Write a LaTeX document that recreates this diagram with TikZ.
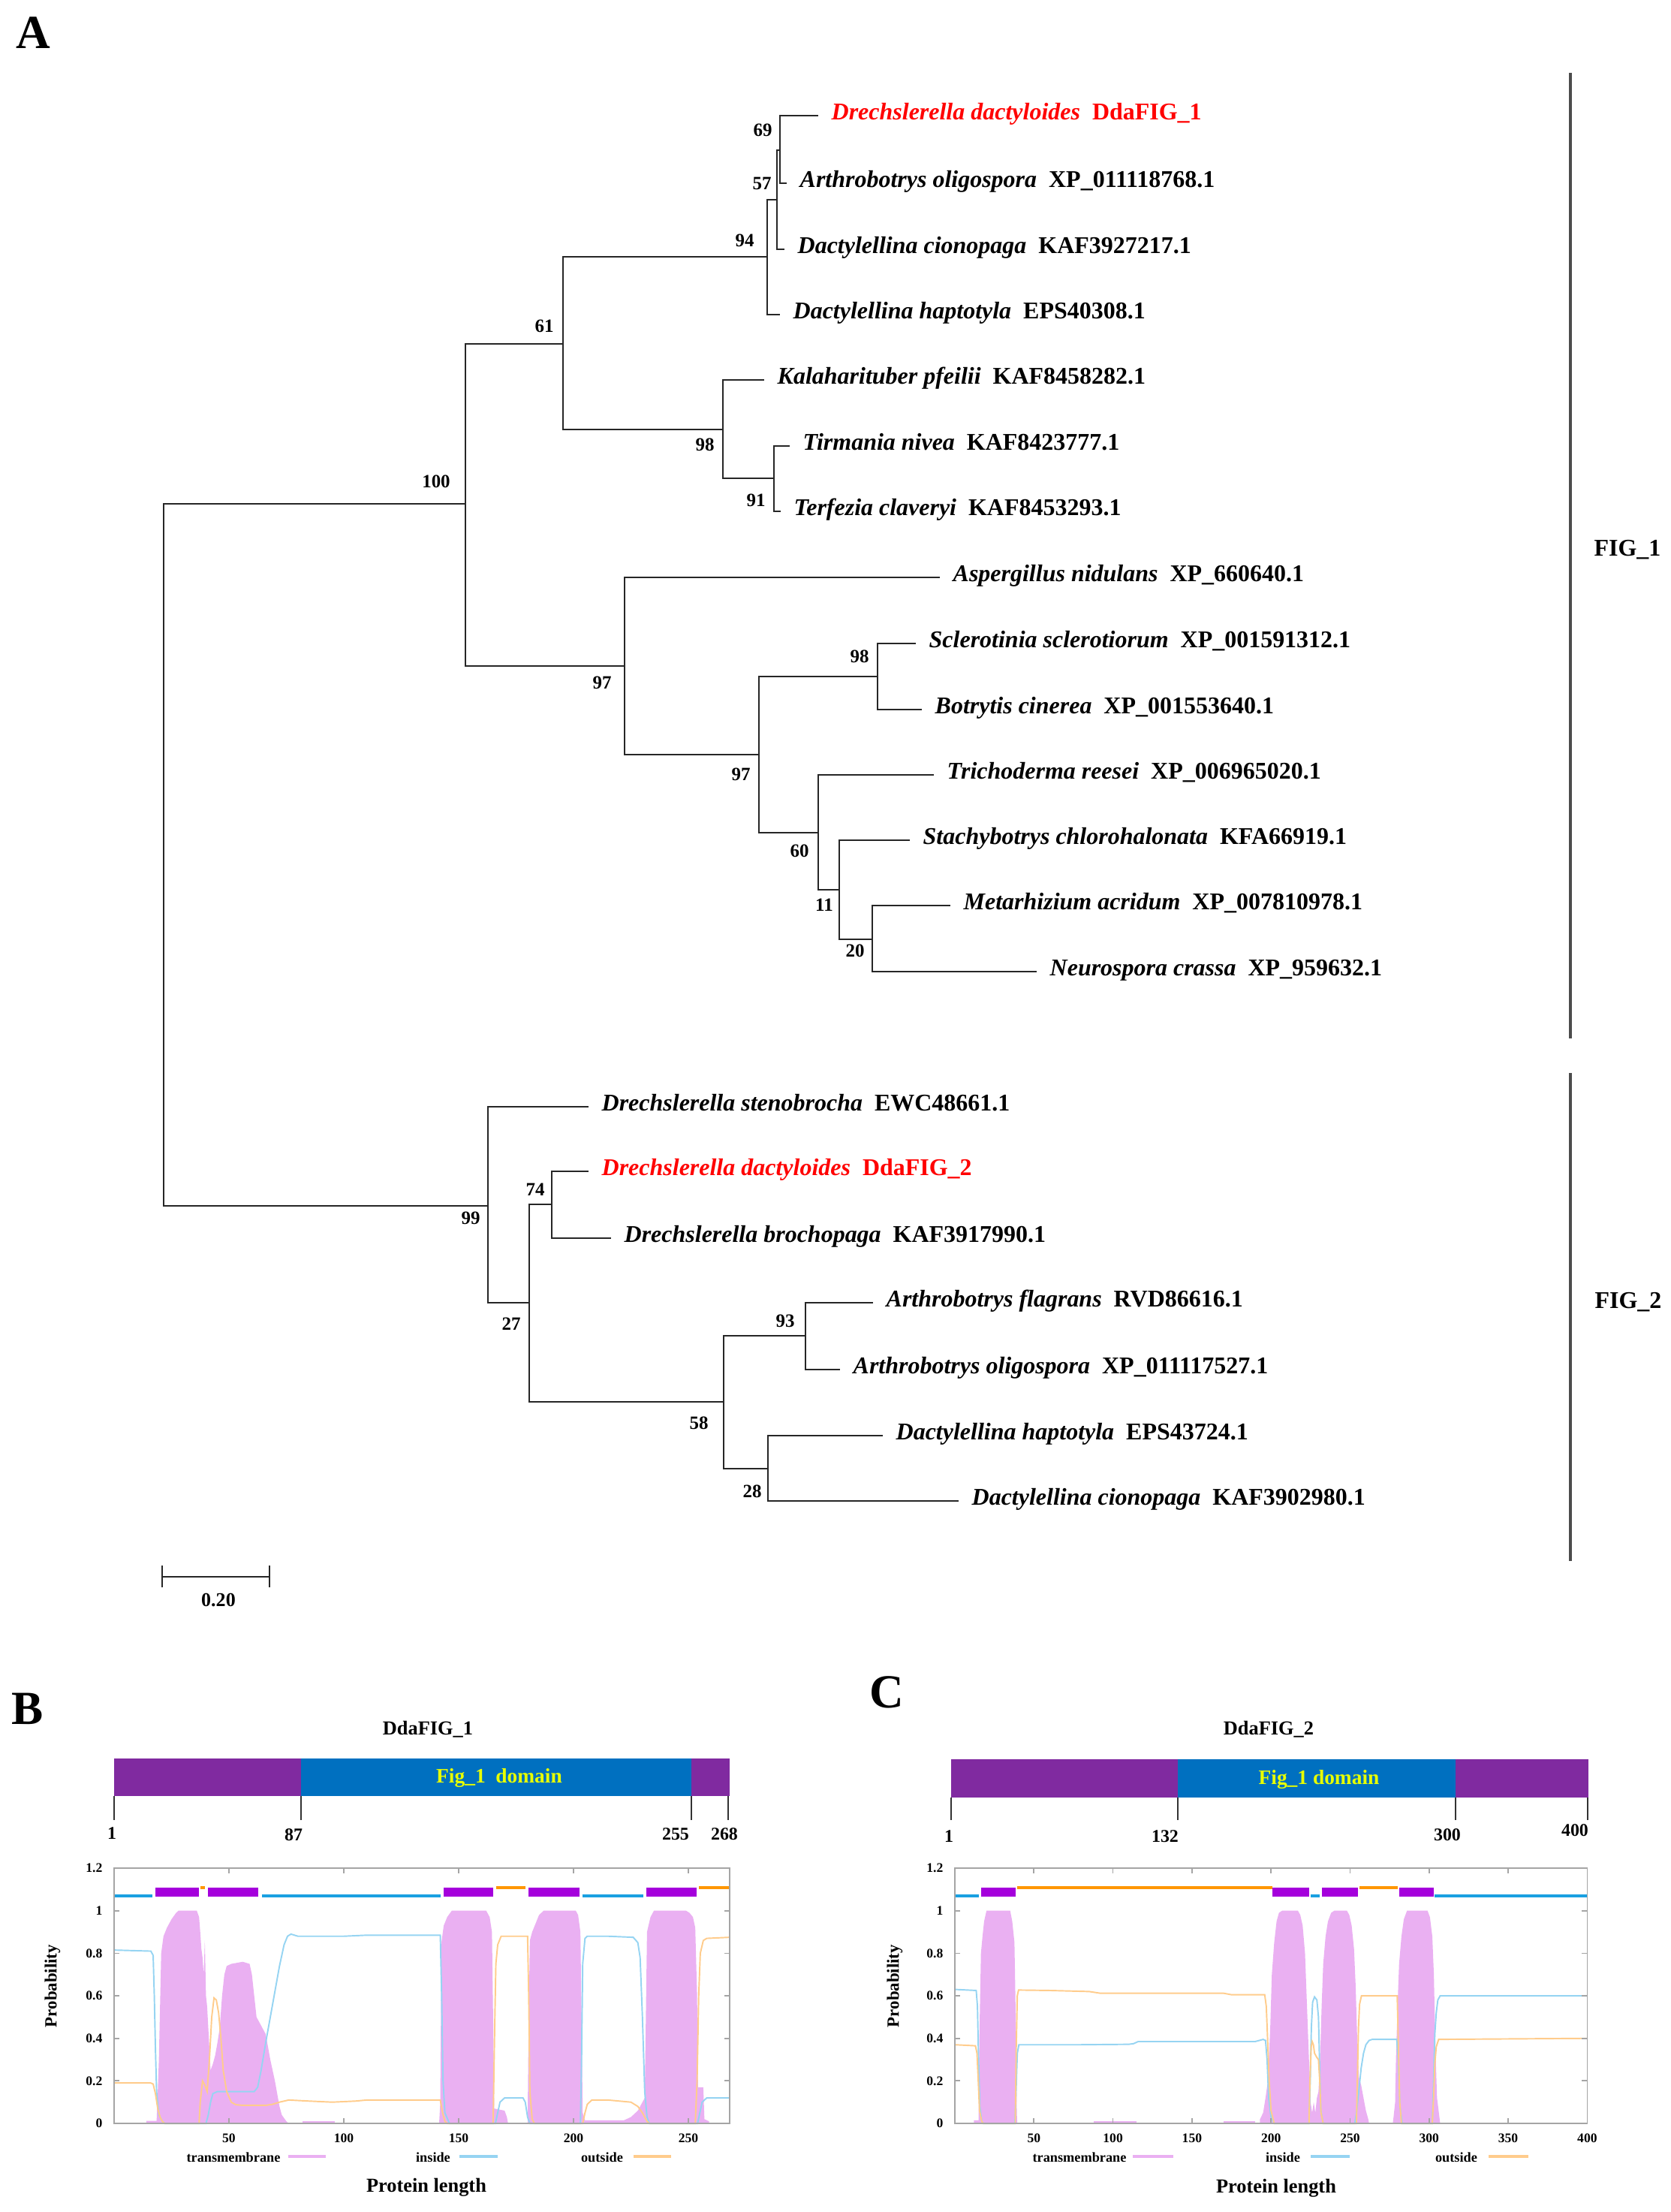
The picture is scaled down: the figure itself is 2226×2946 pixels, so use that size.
\documentclass[tikz,border=0pt]{standalone}
\usepackage{fontspec}
\setmainfont{Liberation Serif}
\usepackage{xcolor}
\usepackage{tikz}

\definecolor{dompurple}{RGB}{128,42,160}
\definecolor{domblue}{RGB}{0,112,192}
\definecolor{domtext}{RGB}{232,255,0}
\definecolor{tmbar}{RGB}{165,0,220}
\definecolor{inbar}{RGB}{25,160,225}
\definecolor{outbar}{RGB}{255,150,0}
\definecolor{tmfill}{RGB}{234,176,242}
\definecolor{incurve}{RGB}{150,212,242}
\definecolor{outcurve}{RGB}{255,204,140}
\definecolor{frgray}{RGB}{165,165,165}

\newcommand{\fsz}[1]{\fontsize{#1}{#1}\selectfont\bfseries}

\begin{document}
\begin{tikzpicture}[x=0.1mm,y=-0.1mm,
  branch/.style={line width=0.75pt,black!85},
  leaf/.style={anchor=west,inner xsep=1.7mm,inner ysep=0pt,text height=0.68em,text depth=0.36em,font=\fsz{9.1pt}},
  boot/.style={inner sep=0pt,font=\fsz{7.1pt}},
  panel/.style={inner sep=0pt,font=\fsz{18pt}},
  cladebar/.style={line width=0.9pt,black!70},
  title/.style={inner sep=0pt,font=\fsz{7.5pt}},
  domlabel/.style={inner sep=0pt,text=domtext,font=\fsz{7.8pt}},
  postick/.style={line width=0.4pt,black!80},
  posnum/.style={inner sep=0pt,font=\fsz{6.8pt}},
  plotframe/.style={line width=0.5pt,frgray},
  ticklab/.style={inner sep=0pt,font=\fsz{5pt}},
  axtitle/.style={inner sep=0pt,font=\fsz{6.5pt}},
  lentitle/.style={inner sep=0pt,font=\fsz{7.5pt}},
  legtext/.style={inner sep=0pt,font=\fsz{5.2pt}},
  incline/.style={line width=0.55pt,incurve},
  outcline/.style={line width=0.55pt,outcurve},
  topo/.style={line width=1pt}
]
\useasboundingbox (0,0) rectangle (2226,2946);

%%% A: tree
\node[panel] (labA) at (44,44) {A};

\coordinate (root) at (218,1138);
\coordinate (n100) at (620,671);
\coordinate (n99) at (650,1606);
\coordinate (n61) at (750,458);
\coordinate (n97a) at (832,887);
\coordinate (n94) at (1022,342);
\coordinate (n98a) at (963,572);
\coordinate (n57) at (1035,266);
\coordinate (n69) at (1039,200);
\coordinate (n91) at (1031,637);
\coordinate (n97b) at (1011,1005);
\coordinate (n98b) at (1169,901);
\coordinate (n60) at (1090,1109);
\coordinate (n11) at (1118,1185);
\coordinate (n20) at (1162,1251);
\coordinate (n27) at (705,1735);
\coordinate (n74) at (735,1604);
\coordinate (n58) at (964,1867);
\coordinate (n93) at (1073,1779);
\coordinate (n28) at (1023,1956);

\node[leaf,text=red] (dda1) at (1090,154) {\textit{Drechslerella dactyloides}\hspace{0.5em}DdaFIG\_1};
\node[leaf] (aol1) at (1048,244) {\textit{Arthrobotrys oligospora}\hspace{0.5em}XP\_011118768.1};
\node[leaf] (dci1) at (1045,332) {\textit{Dactylellina cionopaga}\hspace{0.5em}KAF3927217.1};
\node[leaf] (dha1) at (1039,419) {\textit{Dactylellina haptotyla}\hspace{0.5em}EPS40308.1};
\node[leaf] (kal) at (1018,506) {\textit{Kalaharituber pfeilii}\hspace{0.5em}KAF8458282.1};
\node[leaf] (tir) at (1052,594) {\textit{Tirmania nivea}\hspace{0.5em}KAF8423777.1};
\node[leaf] (ter) at (1040,681) {\textit{Terfezia claveryi}\hspace{0.5em}KAF8453293.1};
\node[leaf] (asp) at (1252,769) {\textit{Aspergillus nidulans}\hspace{0.5em}XP\_660640.1};
\node[leaf] (scl) at (1220,857) {\textit{Sclerotinia sclerotiorum}\hspace{0.5em}XP\_001591312.1};
\node[leaf] (bot) at (1228,945) {\textit{Botrytis cinerea}\hspace{0.5em}XP\_001553640.1};
\node[leaf] (tri) at (1244,1032) {\textit{Trichoderma reesei}\hspace{0.5em}XP\_006965020.1};
\node[leaf] (sta) at (1212,1119) {\textit{Stachybotrys chlorohalonata}\hspace{0.5em}KFA66919.1};
\node[leaf] (met) at (1266,1206) {\textit{Metarhizium acridum}\hspace{0.5em}XP\_007810978.1};
\node[leaf] (neu) at (1381,1294) {\textit{Neurospora crassa}\hspace{0.5em}XP\_959632.1};
\node[leaf] (ste) at (784,1474) {\textit{Drechslerella stenobrocha}\hspace{0.5em}EWC48661.1};
\node[leaf,text=red] (dda2) at (784,1560) {\textit{Drechslerella dactyloides}\hspace{0.5em}DdaFIG\_2};
\node[leaf] (bro) at (814,1649) {\textit{Drechslerella brochopaga}\hspace{0.5em}KAF3917990.1};
\node[leaf] (fla) at (1163,1735) {\textit{Arthrobotrys flagrans}\hspace{0.5em}RVD86616.1};
\node[leaf] (aol2) at (1119,1824) {\textit{Arthrobotrys oligospora}\hspace{0.5em}XP\_011117527.1};
\node[leaf] (dha2) at (1176,1912) {\textit{Dactylellina haptotyla}\hspace{0.5em}EPS43724.1};
\node[leaf] (dci2) at (1277,1999) {\textit{Dactylellina cionopaga}\hspace{0.5em}KAF3902980.1};

\draw[branch] (root) |- (n100);
\draw[branch] (root) |- (n99);
\draw[branch] (n100) |- (n61);
\draw[branch] (n100) |- (n97a);
\draw[branch] (n61) |- (n94);
\draw[branch] (n61) |- (n98a);
\draw[branch] (n94) |- (n57);
\draw[branch] (n94) |- (dha1.west);
\draw[branch] (n57) |- (n69);
\draw[branch] (n57) |- (dci1.west);
\draw[branch] (n69) |- (dda1.west);
\draw[branch] (n69) |- (aol1.west);
\draw[branch] (n98a) |- (kal.west);
\draw[branch] (n98a) |- (n91);
\draw[branch] (n91) |- (tir.west);
\draw[branch] (n91) |- (ter.west);
\draw[branch] (n97a) |- (asp.west);
\draw[branch] (n97a) |- (n97b);
\draw[branch] (n97b) |- (n98b);
\draw[branch] (n97b) |- (n60);
\draw[branch] (n98b) |- (scl.west);
\draw[branch] (n98b) |- (bot.west);
\draw[branch] (n60) |- (tri.west);
\draw[branch] (n60) |- (n11);
\draw[branch] (n11) |- (sta.west);
\draw[branch] (n11) |- (n20);
\draw[branch] (n20) |- (met.west);
\draw[branch] (n20) |- (neu.west);
\draw[branch] (n99) |- (ste.west);
\draw[branch] (n99) |- (n27);
\draw[branch] (n27) |- (n74);
\draw[branch] (n27) |- (n58);
\draw[branch] (n74) |- (dda2.west);
\draw[branch] (n74) |- (bro.west);
\draw[branch] (n58) |- (n93);
\draw[branch] (n58) |- (n28);
\draw[branch] (n93) |- (fla.west);
\draw[branch] (n93) |- (aol2.west);
\draw[branch] (n28) |- (dha2.west);
\draw[branch] (n28) |- (dci2.west);

% bootstrap values
\node[boot] (b100) at (581,641) {100};
\node[boot] (b61) at (725,434) {61};
\node[boot] (b94) at (992,320) {94};
\node[boot] (b69) at (1016,173) {69};
\node[boot] (b57) at (1015,244) {57};
\node[boot] (b98a) at (939,592) {98};
\node[boot] (b91) at (1007,666) {91};
\node[boot] (b97a) at (802,909) {97};
\node[boot] (b97b) at (987,1031) {97};
\node[boot] (b98b) at (1145,874) {98};
\node[boot] (b60) at (1065,1133) {60};
\node[boot] (b11) at (1098,1205) {11};
\node[boot] (b20) at (1139,1266) {20};
\node[boot] (b99) at (627,1622) {99};
\node[boot] (b74) at (713,1584) {74};
\node[boot] (b27) at (681,1763) {27};
\node[boot] (b93) at (1046,1759) {93};
\node[boot] (b58) at (931,1895) {58};
\node[boot] (b28) at (1002,1986) {28};

% clades
\draw[cladebar] (2092,97) -- (2092,1383);
\draw[cladebar] (2092,1429) -- (2092,2079);
\node[leaf,anchor=center,inner xsep=0pt,text depth=0.04em] (fig1) at (2168,729) {FIG\_1};
\node[leaf,anchor=center,inner xsep=0pt,text depth=0.04em] (fig2) at (2169,1731) {FIG\_2};

% scale bar
\draw[branch] (216,2100) -- (359,2100);
\draw[branch] (216,2085) -- (216,2114);
\draw[branch] (359,2085) -- (359,2114);
\node[boot,font=\fsz{7.4pt}] (sbar) at (291,2131) {0.20};

%%% B: DdaFIG_1
\node[panel] (labB) at (37,2276) {B};
\node[title] (titB) at (570,2303) {DdaFIG\_1};
\fill[dompurple] (152,2342) rectangle (401,2392);
\fill[domblue] (401,2342) rectangle (921,2392);
\fill[dompurple] (921,2342) rectangle (972,2392);
\node[domlabel] (domB) at (665,2368) {Fig\_1\ \ domain};
\draw[postick] (152,2392) -- (152,2424);
\draw[postick] (401,2392) -- (401,2424);
\draw[postick] (921,2392) -- (921,2424);
\draw[postick] (970,2392) -- (970,2424);
\node[posnum] (pB1) at (149,2442) {1};
\node[posnum] (pB87) at (391,2444) {87};
\node[posnum] (pB255) at (900,2443) {255};
\node[posnum] (pB268) at (965,2443) {268};

\begin{scope}[shift={(152,2828)},x=0.306mm,y=28.33mm]
\fill[tmfill] (14,0) -- (14,0.012) -- (18.5,0.012) -- (19,0.15) -- (19.5,0.3) -- (20,0.55) -- (20.5,0.8) -- (21.5,0.88) -- (23,0.92) -- (25,0.96) -- (27,0.99) -- (28,1) -- (36,1) -- (37,0.97) -- (37.5,0.9) -- (38,0.82) -- (38.5,0.78) -- (39,0.7) -- (39.5,0.86) -- (40,0.6) -- (40.5,0.55) -- (41,0.45) -- (42,0.25) -- (43,0.28) -- (44,0.32) -- (45,0.38) -- (46,0.45) -- (47,0.6) -- (48,0.7) -- (49,0.74) -- (51,0.75) -- (56,0.76) -- (59,0.75) -- (60,0.7) -- (61,0.6) -- (62,0.5) -- (64,0.46) -- (66,0.42) -- (67,0.36) -- (68,0.3) -- (69,0.25) -- (70,0.2) -- (71,0.14) -- (72,0.08) -- (73,0.04) -- (75,0.01) -- (76,0) -- cycle;
\fill[tmfill] (82,0) rectangle (96,0.012);
\fill[tmfill] (141.5,0) -- (142,0.1) -- (142.5,0.85) -- (143.5,0.93) -- (145,0.97) -- (147,1) -- (162,1) -- (163.5,0.97) -- (164.5,0.9) -- (165,0.5) -- (165.5,0.07) -- (170,0.06) -- (171,0.03) -- (171.5,0) -- cycle;
\fill[tmfill] (180,0) -- (180.5,0.5) -- (181,0.86) -- (182,0.9) -- (183.5,0.94) -- (185,0.98) -- (187,1) -- (201,1) -- (202,0.98) -- (203,0.9) -- (203.5,0.5) -- (204,0.05) -- (205,0.015) -- (222,0.015) -- (225,0.03) -- (228,0.06) -- (230,0.1) -- (231,0.12) -- (231.5,0.5) -- (232,0.9) -- (233.5,0.97) -- (235,1) -- (249,1) -- (250.5,0.99) -- (252,0.97) -- (253,0.92) -- (253.8,0.6) -- (254.2,0.17) -- (256.5,0.17) -- (257,0.02) -- (259,0.01) -- (259,0) -- cycle;
\draw[incline] plot coordinates {(0,0.815) (16,0.81) (17,0.79) (17.5,0.6) (18,0.35) (18.5,0.15) (19.5,0.04) (21,0.01) (22,0) (40,0) (41,0.04) (42,0.1) (43,0.14) (45,0.15) (61,0.15) (62.5,0.17) (64,0.25) (66,0.38) (68,0.5) (70,0.62) (72,0.74) (74,0.84) (75.5,0.88) (77,0.89) (80,0.88) (100,0.88) (110,0.885) (142,0.885) (142.6,0.6) (143.2,0.2) (144,0.05) (146,0) (166,0) (167,0.05) (168,0.1) (170,0.12) (178,0.12) (179,0.1) (180,0.03) (181,0) (203,0) (203.5,0.3) (204,0.75) (205,0.87) (206,0.88) (215,0.88) (226,0.875) (228,0.85) (229,0.78) (230,0.5) (231,0.15) (232,0.03) (233,0) (254,0) (255,0.05) (256,0.1) (258,0.12) (268,0.12)};
\draw[outcline] plot coordinates {(0,0.19) (16,0.19) (17,0.185) (18,0.14) (19,0.07) (20,0.03) (21,0.01) (22,0) (37,0) (37.5,0.1) (38.5,0.2) (39.5,0.18) (40.5,0.15) (41.5,0.3) (42.5,0.5) (43.5,0.59) (44.5,0.58) (45.5,0.52) (46.5,0.4) (47.5,0.25) (49,0.15) (51,0.1) (53,0.088) (56,0.085) (66,0.085) (69,0.09) (72,0.1) (76,0.11) (85,0.105) (95,0.1) (105,0.105) (110,0.11) (142,0.11) (143,0.05) (144,0.01) (145,0) (165,0) (165.6,0.4) (166.2,0.75) (167,0.84) (168.5,0.88) (180,0.88) (180.5,0.6) (181,0.15) (182,0.02) (183,0) (204,0) (205,0.05) (206,0.09) (208,0.11) (215,0.11) (225,0.1) (228,0.08) (230,0.05) (232,0.01) (233,0) (253,0) (253.8,0.2) (254.5,0.6) (255.2,0.8) (256.5,0.86) (258,0.87) (268,0.875)};
% predicted topology
\draw[topo,inbar] (0,1.069) -- (16.8,1.069) (64.3,1.069) -- (142.2,1.069) (203.8,1.069) -- (230.5,1.069);
\draw[topo,outbar] (37.6,1.108) -- (39.7,1.108) (166.3,1.108) -- (179.1,1.108) (254.5,1.108) -- (268,1.108);
\fill[tmbar] (18,1.065) rectangle (36.8,1.11);
\fill[tmbar] (40.9,1.065) rectangle (62.7,1.11);
\fill[tmbar] (143.4,1.065) rectangle (165.1,1.11);
\fill[tmbar] (180.3,1.065) rectangle (202.5,1.11);
\fill[tmbar] (231.6,1.065) rectangle (253.6,1.11);
\draw[plotframe] (0,0) rectangle (268,1.2);
\foreach \t in {50,100,150,200,250} {
  \draw[plotframe] (\t,0) -- ++(0,0.7mm) (\t,1.2) -- ++(0,-0.7mm);
  \node[ticklab,anchor=north,yshift=-1.3mm] (xB\t) at (\t,0) {\t};
}
\foreach \v/\l [count=\i] in {0/0,0.2/0.2,0.4/0.4,0.6/0.6,0.8/0.8,1/1,1.2/1.2} {
  \draw[plotframe] (0,\v) -- ++(0.7mm,0) (268,\v) -- ++(-0.7mm,0);
  \node[ticklab,anchor=east,xshift=-1.5mm] (yB\i) at (0,\v) {\l};
}
\end{scope}
\node[axtitle,rotate=90] (probB) at (70,2645) {Probability};
\node[legtext] (lgB1) at (311,2873) {transmembrane};
\draw[tmfill,line width=1pt] (384,2872) -- (434,2872);
\node[legtext] (lgB2) at (577,2873) {inside};
\draw[incurve,line width=1pt] (612,2872) -- (663,2872);
\node[legtext] (lgB3) at (802,2873) {outside};
\draw[outcurve,line width=1pt] (844,2872) -- (894,2872);
\node[lentitle] (lenB) at (568,2913) {Protein length};

%%% C: DdaFIG_2
\node[panel] (labC) at (1181,2254) {C};
\node[title] (titC) at (1690,2303) {DdaFIG\_2};
\fill[dompurple] (1267,2343) rectangle (1569,2394);
\fill[domblue] (1569,2343) rectangle (1939,2394);
\fill[dompurple] (1939,2343) rectangle (2116,2394);
\node[domlabel] (domC) at (1757,2370) {Fig\_1 domain};
\draw[postick] (1267,2394) -- (1267,2424);
\draw[postick] (1569,2394) -- (1569,2424);
\draw[postick] (1939,2394) -- (1939,2424);
\draw[postick] (2115,2394) -- (2115,2424);
\node[posnum] (pC1) at (1264,2446) {1};
\node[posnum] (pC132) at (1552,2446) {132};
\node[posnum] (pC300) at (1928,2444) {300};
\node[posnum] (pC400) at (2098,2438) {400};

\begin{scope}[shift={(1272,2828)},x=0.2106mm,y=28.33mm]
\fill[tmfill] (12,0) -- (12,0.015) -- (15,0.015) -- (15.5,0.4) -- (16.5,0.8) -- (17.5,0.88) -- (18.5,0.95) -- (20,1) -- (35,1) -- (36.3,0.95) -- (37.7,0.85) -- (38.5,0.5) -- (39.2,0.05) -- (39.5,0) -- cycle;
\fill[tmfill] (88,0) rectangle (115,0.01);
\fill[tmfill] (170,0) rectangle (190,0.01);
\fill[tmfill] (193,0) -- (193,0.02) -- (195,0.05) -- (196.5,0.12) -- (198,0.2) -- (199.5,0.45) -- (200.5,0.7) -- (202,0.85) -- (203.5,0.95) -- (205,0.99) -- (207,1) -- (217,1) -- (218.5,0.98) -- (220,0.93) -- (221.5,0.8) -- (222.5,0.6) -- (223.5,0.4) -- (224.5,0.2) -- (225,0.1) -- (226,0.05) -- (227,0.1) -- (228,0.05) -- (229,0.12) -- (230,0.15) -- (231,0.3) -- (232,0.55) -- (233,0.75) -- (234.5,0.88) -- (236,0.95) -- (238,0.99) -- (240,1) -- (248,1) -- (249.5,0.98) -- (251,0.93) -- (252.5,0.82) -- (253.5,0.65) -- (254.5,0.4) -- (255.5,0.22) -- (257,0.18) -- (258.5,0.12) -- (260,0.06) -- (261.5,0.02) -- (262,0) -- cycle;
\fill[tmfill] (277,0) -- (277.5,0.03) -- (278.5,0.1) -- (279,0.3) -- (280,0.55) -- (281,0.75) -- (282.5,0.88) -- (284,0.96) -- (286,1) -- (299,1) -- (300.5,0.97) -- (302,0.88) -- (303,0.7) -- (304,0.35) -- (305,0.12) -- (306.5,0.03) -- (307,0) -- cycle;
\draw[incline] plot coordinates {(0,0.63) (13.5,0.625) (14.3,0.55) (15,0.3) (15.8,0.08) (17,0.01) (18,0) (38,0) (38.7,0.15) (39.5,0.33) (40.5,0.37) (80,0.37) (110,0.372) (113,0.375) (116,0.385) (190,0.385) (195,0.395) (196.5,0.39) (197.5,0.3) (198.5,0.12) (200,0.03) (202,0) (224,0) (224.8,0.2) (225.5,0.45) (226.3,0.57) (227.5,0.595) (229,0.58) (230,0.5) (230.8,0.25) (231.5,0.06) (233,0) (253,0) (254,0.05) (255.5,0.15) (257,0.26) (258.5,0.33) (260,0.37) (262,0.39) (264,0.395) (279.5,0.395) (280.5,0.3) (281.5,0.08) (283,0) (302,0) (302.8,0.2) (303.6,0.42) (304.5,0.52) (305.5,0.58) (307,0.6) (400,0.6)};
\draw[outcline] plot coordinates {(0,0.37) (13,0.365) (14,0.33) (14.8,0.2) (15.6,0.06) (17,0.01) (18,0) (38.2,0) (38.8,0.35) (39.5,0.6) (40.3,0.627) (60,0.625) (85,0.62) (92,0.612) (170,0.612) (175,0.605) (196,0.605) (197,0.55) (197.8,0.4) (198.8,0.2) (200,0.06) (202,0) (224,0) (224.6,0.2) (225.4,0.36) (226,0.385) (226.8,0.37) (227.5,0.33) (229,0.31) (230,0.3) (230.8,0.2) (231.6,0.05) (233,0) (254,0) (254.6,0.2) (255.3,0.45) (256,0.56) (257.2,0.6) (279.8,0.6) (280.6,0.35) (281.4,0.1) (282.5,0) (302,0) (302.8,0.12) (303.6,0.28) (304.5,0.36) (306,0.395) (400,0.4)};
% predicted topology
\draw[topo,inbar] (0,1.069) -- (15,1.069) (225,1.069) -- (231,1.069) (303.5,1.069) -- (400,1.069);
\draw[topo,outbar] (39.5,1.108) -- (201,1.108) (256,1.108) -- (280,1.108);
\fill[tmbar] (16.5,1.065) rectangle (38.5,1.11);
\fill[tmbar] (201,1.065) rectangle (224,1.11);
\fill[tmbar] (232,1.065) rectangle (255,1.11);
\fill[tmbar] (281,1.065) rectangle (303,1.11);
\draw[plotframe] (0,0) rectangle (400,1.2);
\foreach \t in {50,100,150,200,250,300,350,400} {
  \draw[plotframe] (\t,0) -- ++(0,0.7mm) (\t,1.2) -- ++(0,-0.7mm);
  \node[ticklab,anchor=north,yshift=-1.3mm] (xC\t) at (\t,0) {\t};
}
\foreach \v/\l [count=\i] in {0/0,0.2/0.2,0.4/0.4,0.6/0.6,0.8/0.8,1/1,1.2/1.2} {
  \draw[plotframe] (0,\v) -- ++(0.7mm,0) (400,\v) -- ++(-0.7mm,0);
  \node[ticklab,anchor=east,xshift=-1.5mm] (yC\i) at (0,\v) {\l};
}
\end{scope}
\node[axtitle,rotate=90] (probC) at (1192,2645) {Probability};
\node[legtext] (lgC1) at (1438,2873) {transmembrane};
\draw[tmfill,line width=1pt] (1509,2872) -- (1563,2872);
\node[legtext] (lgC2) at (1709,2873) {inside};
\draw[incurve,line width=1pt] (1746,2872) -- (1798,2872);
\node[legtext] (lgC3) at (1940,2873) {outside};
\draw[outcurve,line width=1pt] (1983,2872) -- (2036,2872);
\node[lentitle] (lenC) at (1700,2914) {Protein length};

\end{tikzpicture}
\end{document}
